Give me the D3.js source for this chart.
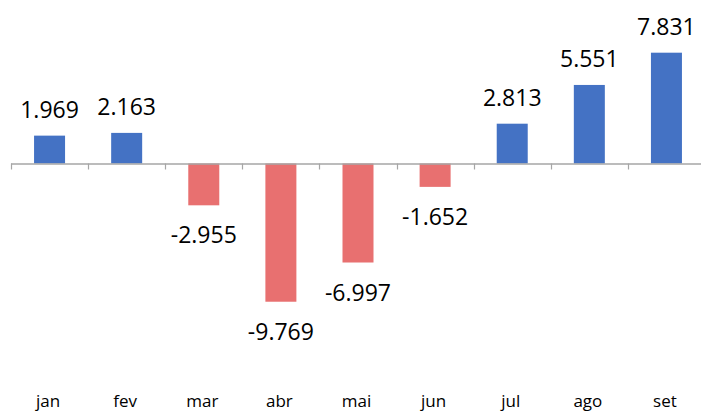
<!DOCTYPE html>
<html><head><meta charset="utf-8">
<script src="https://cdn.jsdelivr.net/npm/d3@7"></script>
<style>body{margin:0;background:#fff}svg{display:block}</style>
</head><body>
<svg id="c" width="701" height="413"></svg>
<script>
const categories = ["jan","fev","mar","abr","mai","jun","jul","ago","set"];
const values = [1.969, 2.163, -2.955, -9.769, -6.997, -1.652, 2.813, 5.551, 7.831];
const valueLabels = ["1.969","2.163","-2.955","-9.769","-6.997","-1.652","2.813","5.551","7.831"];

const svg = d3.select("#c");
const y = d3.scaleLinear().domain([-10, 8]).range([163.5 + 141.5, 163.5 - 113.2]);
const band = d3.scaleBand().domain(categories).range([11, 705]);

svg.selectAll("rect.bar").data(values).join("rect")
  .attr("x", (d,i) => band(categories[i]) + band.bandwidth()/2 - 15.5)
  .attr("width", 31)
  .attr("y", d => y(Math.max(0,d)))
  .attr("height", d => Math.abs(y(d) - y(0)))
  .attr("fill", d => d >= 0 ? "#4472C4" : "#E87070");

const g = svg.append("g").attr("transform", `translate(0,${y(0)})`);
g.append("line").attr("x1", 11).attr("x2", 705).attr("y1", 0.5).attr("y2", 0.5)
  .attr("stroke", "#a6a6a6").attr("stroke-width", 1.5);
const tickPos = categories.map(c => band(c)).concat([705]);
g.selectAll("line.tick").data(tickPos).join("line")
  .attr("x1", d => Math.round(d) + 0.5).attr("x2", d => Math.round(d) + 0.5)
  .attr("y1", 0).attr("y2", 6).attr("stroke", "#a6a6a6").attr("stroke-width", 1.2);

svg.selectAll("text.val").data(values).join("text")
  .attr("x", (d,i) => band(categories[i]) + band.bandwidth()/2)
  .attr("y", d => d >= 0 ? y(d) - 18 : y(d) + 38)
  .attr("text-anchor", "middle")
  .attr("font-family", "Open Sans")
  .attr("font-size", 23)
  .attr("fill", "#000")
  .text((d,i) => valueLabels[i]);

svg.selectAll("text.cat").data(categories).join("text")
  .attr("x", c => band(c) + band.bandwidth()/2 - 1.5)
  .attr("y", 407)
  .attr("text-anchor", "middle")
  .attr("font-family", "Open Sans")
  .attr("font-size", 17)
  .attr("fill", "#000")
  .text(c => c);
</script>
</body></html>
